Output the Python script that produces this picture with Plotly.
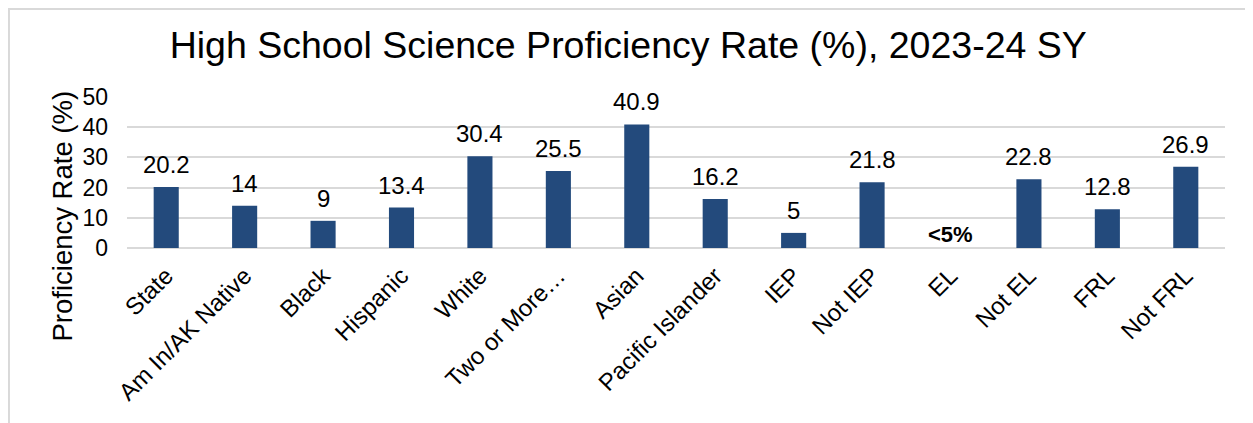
import plotly.graph_objects as go

categories = ['State', 'Am In/AK Native', 'Black', 'Hispanic', 'White', 'Two or More…', 'Asian',
              'Pacific Islander', 'IEP', 'Not IEP', 'EL', 'Not EL', 'FRL', 'Not FRL']
rates = [20.2, 14, 9, 13.4, 30.4, 25.5, 40.9, 16.2, 5, 21.8, None, 22.8, 12.8, 26.9]
labels = ['20.2', '14', '9', '13.4', '30.4', '25.5', '40.9', '16.2', '5', '21.8', '', '22.8', '12.8', '26.9']
suppressed = ('EL', '<5%')

FONT = 'Liberation Sans, Arial, sans-serif'
BAR = '#234A7C'
GRID = '#D9D9D9'

fig = go.Figure(go.Bar(
    x=categories,
    y=rates,
    marker=dict(color=BAR, line=dict(width=0)),
    width=0.32,
    cliponaxis=False,
))

# etiquetas de datos (con más separación que el texto 'outside' de plotly)
for cat, val, lab in zip(categories, rates, labels):
    if val is None:
        continue
    fig.add_annotation(x=cat, y=val, yanchor='bottom', yshift=7, showarrow=False, text=lab,
                       font=dict(size=24, color='#000000', family=FONT))

# valor suprimido (EL)
fig.add_annotation(x=suppressed[0], y=0, yanchor='bottom', yshift=-1, showarrow=False,
                   text='<b>&lt;5%</b>', font=dict(size=22, color='#000000', family=FONT))

# título del eje Y
fig.add_annotation(xref='paper', yref='paper', x=-0.059, y=0.21, xanchor='center', yanchor='middle',
                   textangle=-90, showarrow=False,
                   text='Proficiency Rate (%)', font=dict(size=27.5, color='#000000', family=FONT))

# borde del gráfico
fig.add_shape(type='rect', xref='paper', yref='paper', x0=-0.1075, y0=-1.3, x1=1.1, y1=1.583,
              line=dict(color=GRID, width=2), layer='below')

# la página añade 8 px de margen al cuerpo, se compensa en los márgenes
fig.update_layout(
    width=1253, height=423,
    margin=dict(l=119, r=36, t=89, b=183),
    paper_bgcolor='white', plot_bgcolor='white',
    font=dict(family=FONT, color='#000000'),
    title=dict(text='High School Science Proficiency Rate (%), 2023-24 SY', x=0.495, xref='container',
               xanchor='center', y=0.913, yanchor='middle',
               font=dict(size=37.5, color='#000000', family=FONT)),
    showlegend=False,
    xaxis=dict(tickangle=-45, tickfont=dict(size=24), showgrid=False, showline=False,
               ticks='', ticklabelstandoff=8, automargin=False),
    yaxis=dict(range=[0, 50], dtick=10, tickfont=dict(size=23), showgrid=True, gridcolor=GRID,
               gridwidth=2, zeroline=True, zerolinecolor=GRID, zerolinewidth=2, showline=False,
               ticks='', ticklabelstandoff=18, automargin=False),
)

fig.write_html('out.html')
